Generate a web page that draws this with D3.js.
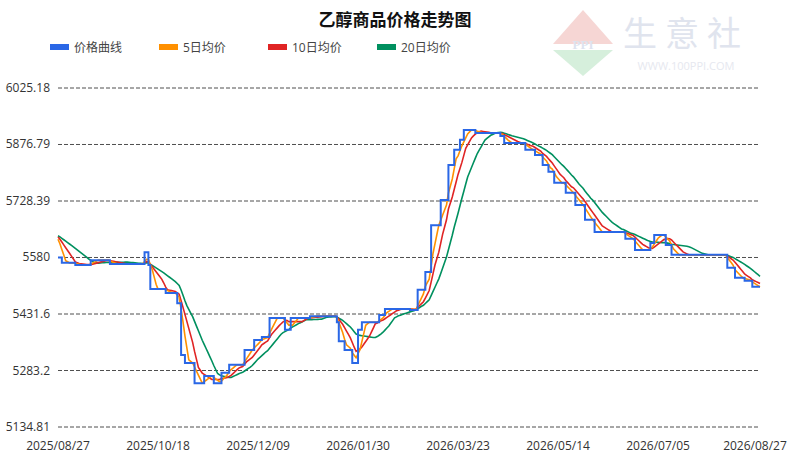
<!DOCTYPE html>
<html><head><meta charset="utf-8">
<script src="https://cdn.jsdelivr.net/npm/d3@7"></script>
<style>body{margin:0;background:#fff}svg{font-family:"Open Sans","Noto Sans CJK SC",sans-serif}</style>
</head><body><svg id="c" width="790" height="458"></svg>
<script>
// step points of the price curve: day offset from 2025/08/27 and price
var stepDays = [-20,0,2,9,17,27,45,47,48,56,62,64,66,71,76,81,85,89,97,102,106,110,118,121,131,145,146,149,153,156,158,167,170,183,187,191,194,199,203,206,209,211,217,230,232,243,248,252,255,258,264,269,274,279,295,300,308,310,316,319,348,352,357,361];
var stepValues = [5640,5580,5566,5560,5573,5563,5594,5560,5497,5487,5460,5324,5303,5250,5269,5250,5277,5298,5337,5363,5371,5421,5390,5421,5426,5410,5360,5337,5303,5390,5410,5429,5445,5442,5495,5542,5665,5731,5823,5863,5889,5915,5907,5899,5881,5863,5849,5823,5805,5776,5750,5718,5679,5647,5629,5600,5618,5639,5613,5587,5553,5527,5519,5503];
var yTicks = [6025.18,5876.79,5728.39,5580,5431.6,5283.2,5134.81];
var xTickLabels = ["2025/08/27","2025/10/18","2025/12/09","2026/01/30","2026/03/23","2026/05/14","2026/07/05","2026/08/27"];
var seriesNames = ["价格曲线","5日均价","10日均价","20日均价"];
var seriesColors = ["#2a67e6","#ff9000","#e02424","#00905f"];
var maWindows = [1,5,10,20];

var svg = d3.select("#c");
var totalDays = 365;
var x = d3.scaleLinear().domain([0,totalDays]).range([58,760]);
var y = d3.scaleLinear().domain([5134.81,6025.18]).range([427,88]);

// watermark
var wm = svg.append("g");
wm.append("path").attr("d","M583,10 L613,44 L553,44 Z").attr("fill","#f6d6d4");
wm.append("path").attr("d","M553,50 L613,50 L583,76 Z").attr("fill","#d6efdc");
wm.append("text").attr("x",583).attr("y",49).attr("text-anchor","middle").attr("font-size",13).attr("font-weight","bold").attr("fill","#dde3ef").attr("font-family","Liberation Serif").text("PPI");
wm.append("text").attr("x",686).attr("y",46).attr("text-anchor","middle").attr("font-size",34).attr("fill","#e0e4ee").attr("letter-spacing","8").text("生意社");
wm.append("text").attr("x",686).attr("y",70).attr("text-anchor","middle").attr("font-size",11).attr("fill","#e6e8ef").text("WWW.100PPI.COM");

svg.append("text").attr("x",395).attr("y",26).attr("text-anchor","middle").attr("font-size",17).attr("font-weight","bold").attr("fill","#111").text("乙醇商品价格走势图");

seriesNames.forEach(function(n,i){
  var lx = 50 + i*109;
  svg.append("rect").attr("x",lx).attr("y",44).attr("width",19).attr("height",6).attr("fill",seriesColors[i]);
  svg.append("text").attr("x",lx+24).attr("y",52).attr("font-size",12).attr("fill","#444").text(n);
});

yTicks.forEach(function(t){
  svg.append("line").attr("x1",58).attr("x2",760).attr("y1",y(t)).attr("y2",y(t))
    .attr("stroke","#222").attr("stroke-dasharray","4,2").attr("stroke-width",0.8);
  svg.append("text").attr("x",50).attr("y",y(t)+4).attr("text-anchor","end").attr("font-size",12).attr("fill","#333").text(t);
});
xTickLabels.forEach(function(l,i){
  var px = Math.min(x(i*52), 755);
  svg.append("text").attr("x",px).attr("y",450).attr("text-anchor","middle").attr("font-size",12).attr("fill","#333").text(l);
});

// daily prices from step points
var daily = [];
for (var d = -20; d <= totalDays; d++) {
  var v = stepValues[0];
  for (var k = 0; k < stepDays.length; k++) if (stepDays[k] <= d) v = stepValues[k];
  daily.push({day:d, v:v});
}
var line = d3.line().x(function(p){return x(p.day);}).y(function(p){return y(p.v);});
[3,2,1,0].forEach(function(si){
  var w = maWindows[si], pts = [];
  for (var i = 20; i < daily.length; i++) {
    var s = 0; for (var j = 0; j < w; j++) s += daily[i-j].v;
    pts.push({day:daily[i].day, v:s/w});
  }
  svg.append("path").datum(pts)
    .attr("d", si === 0 ? line.curve(d3.curveStepAfter)(pts) : line.curve(d3.curveLinear)(pts))
    .attr("fill","none").attr("stroke",seriesColors[si]).attr("stroke-width", si===0?2:1.6);
});
</script></body></html>
